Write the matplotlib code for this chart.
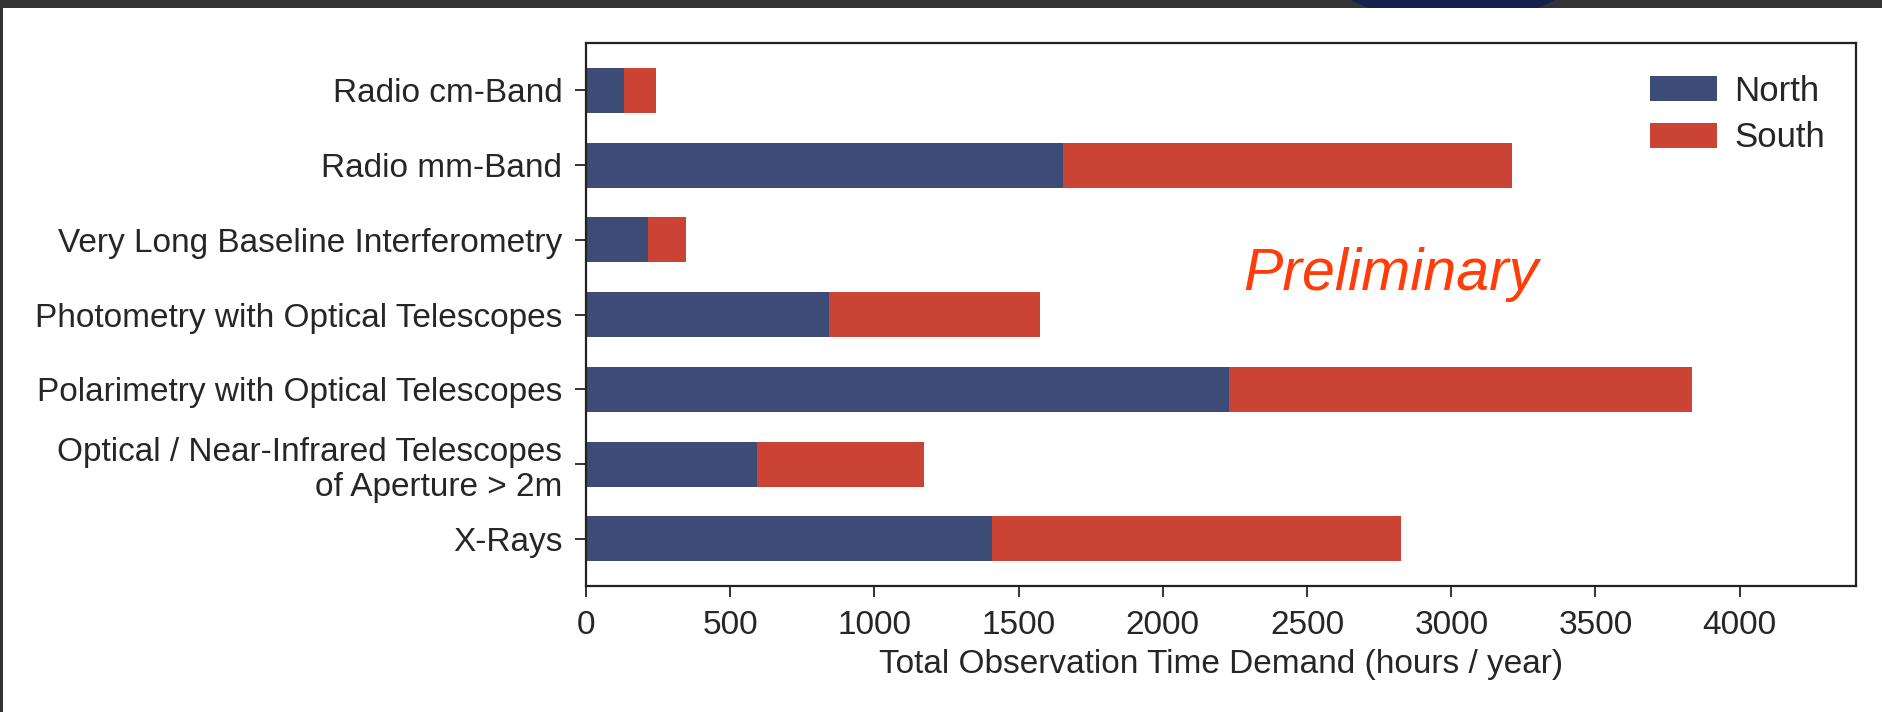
import matplotlib
matplotlib.use("Agg")
import matplotlib.pyplot as plt
from matplotlib.patches import Rectangle, Ellipse
import numpy as np

categories = [
    "Radio cm-Band",
    "Radio mm-Band",
    "Very Long Baseline Interferometry",
    "Photometry with Optical Telescopes",
    "Polarimetry with Optical Telescopes",
    "Optical / Near-Infrared Telescopes\nof Aperture > 2m",
    "X-Rays",
]
north = [131, 1653, 215, 843, 2230, 593, 1409]
south = [111, 1559, 132, 731, 1605, 579, 1418]
xticks = [0, 500, 1000, 1500, 2000, 2500, 3000, 3500, 4000]

north_color = "#3c4c77"
south_color = "#cb4335"
text_color = "#262626"

plt.rcParams['font.family'] = ['Liberation Sans', 'DejaVu Sans']

W, H = 1883, 712
fig = plt.figure(figsize=(W / 100, H / 100), dpi=100)
fig.patch.set_facecolor("white")

ax = fig.add_axes([586 / W, 1 - 586 / H, (1856.5 - 586) / W, (586 - 43.3) / H])

y = np.arange(len(categories))
ax.barh(y, north, height=0.6, color=north_color, label="North", linewidth=0)
ax.barh(y, south, left=north, height=0.6, color=south_color, label="South", linewidth=0)

ax.set_yticks(y)
ax.set_yticklabels(categories, fontsize=24, color=text_color, multialignment="right")
ax.set_ylim(len(categories) - 0.37, -0.63)
ax.set_xlim(0, 4405)
ax.set_xticks(xticks)
ax.set_xticklabels([str(t) for t in xticks], fontsize=24, color=text_color)
ax.set_xlabel("Total Observation Time Demand (hours / year)", fontsize=24,
              color=text_color, labelpad=6)

ax.tick_params(axis="both", length=8, width=1.3, color="#222222")
ax.tick_params(axis="y", pad=9)
ax.tick_params(axis="x", pad=9)
for s in ax.spines.values():
    s.set_linewidth(1.6)
    s.set_color("#222222")

leg = ax.legend(loc="upper right", fontsize=25, frameon=False,
                handlelength=1.93, handleheight=0.72, labelspacing=0.4,
                handletextpad=0.5)
for t in leg.get_texts():
    t.set_color(text_color)

ax.text(0.517, 0.545, "Preliminary", transform=ax.transAxes, fontsize=42.5,
        style="italic", color="#ff3d0a", ha="left", va="baseline")

# screenshot frame
band = Rectangle((0, 1 - 7.5 / H), 1, 7.5 / H, transform=fig.transFigure,
                 facecolor="#333333", edgecolor="none", zorder=10)
fig.patches.append(band)
left = Rectangle((0, 0), 3 / W, 1, transform=fig.transFigure,
                 facecolor="#333333", edgecolor="none", zorder=10)
fig.patches.append(left)
circ = Ellipse((1453 / W, 1 + 207 / H), 2 * 231 / W, 2 * 231 / H,
               transform=fig.transFigure, facecolor="#14214d",
               edgecolor="none", zorder=11)
fig.patches.append(circ)
circ.set_clip_path(band)

fig.savefig("out.png", dpi=100, facecolor="white")
